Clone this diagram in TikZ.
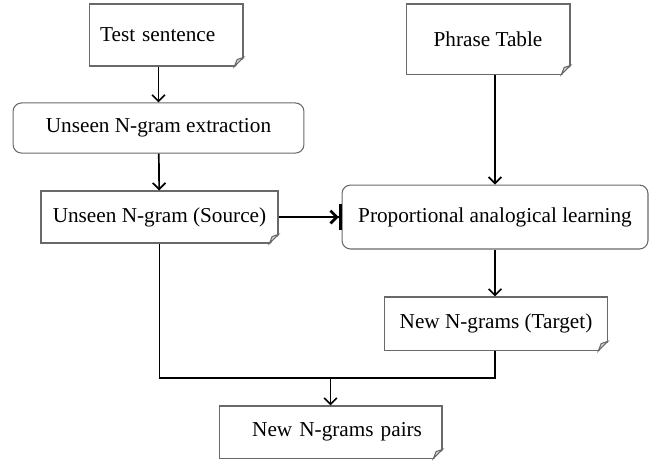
\documentclass[tikz,border=0pt]{standalone}
\usepackage{fontspec}
\setmainfont{Liberation Serif}
\usetikzlibrary{arrows.meta}
\definecolor{borda}{RGB}{105,105,105}
\definecolor{dobra}{RGB}{215,215,215}

\tikzset{
  caixa/.style={draw=borda, line width=0.5pt, rectangle, inner sep=0pt, align=center},
  etapa/.style={caixa, rounded corners=4pt},
  seta/.style={line width=0.8pt, -{Straight Barb[length=3pt,width=6pt]}},
  linha/.style={line width=0.8pt},
}
% canto dobrado (documento)
\newcommand{\dobrar}[1]{%
  \fill[white] ([xshift=-4.3pt,yshift=-0.6pt]#1.south east) -- ([xshift=0.6pt,yshift=-0.6pt]#1.south east)
    -- ([xshift=0.6pt,yshift=4.3pt]#1.south east) -- cycle;
  \filldraw[fill=dobra, draw=borda, line width=0.5pt] ([xshift=-4.3pt]#1.south east) -- ([yshift=4.3pt]#1.south east)
    -- ([xshift=-3pt,yshift=3.3pt]#1.south east) -- cycle;
}

\begin{document}
\begin{tikzpicture}[x=0.471pt, y=-0.471pt]
    \useasboundingbox (0,0) rectangle (660,463);
    % coluna da esquerda
    \node[caixa, inner xsep=5.2pt, text width=62.1pt, align=left, minimum height=29.2pt] (teste) at (166,35) {Test sentence};
    \node[etapa, minimum width=137pt, minimum height=23.6pt] (extracao) at (158.5,128) {Unseen N-gram extraction};
    \node[caixa, minimum width=111.6pt, minimum height=24.5pt] (fonte) at (159.5,217) {Unseen N-gram (Source)};
    % coluna da direita
    \node[caixa, minimum width=77.2pt, minimum height=33pt] (tabela) at (488,39) {Phrase Table};
    \node[etapa, minimum width=144.1pt, minimum height=30.1pt] (analogia) at (495,217) {Proportional analogical learning};
    \node[caixa, minimum width=104.6pt, minimum height=25pt] (alvo) at (496,323.5) {New N-grams (Target)};
    % saida
    \node[caixa, inner xsep=9.4pt, text width=86.2pt, align=right, minimum height=24.5pt] (pares) at (330.5,432) {New N-grams pairs};
    \coordinate (juncao) at (330.5,378);

    \dobrar{teste}
    \dobrar{tabela}
    \dobrar{fonte}
    \dobrar{alvo}
    \dobrar{pares}

    \draw[seta] (teste.south -| extracao.north) -- (extracao.north);
    \draw[seta] (extracao) -- (fonte);
    \draw[seta] (tabela.south -| analogia.north) -- (analogia.north);
    \draw[line width=1.3pt, -{Straight Barb[length=3pt,width=6pt] Bar[width=12.7pt]}] (fonte) -- (analogia);
    \draw[seta] (analogia.south) -- (alvo.north -| analogia.south);
    \draw[linha] (fonte.south) |- (juncao);
    \draw[linha] (alvo.south -| analogia.south) |- (juncao);
    \draw[seta] (juncao) -- (pares);
\end{tikzpicture}
\end{document}
